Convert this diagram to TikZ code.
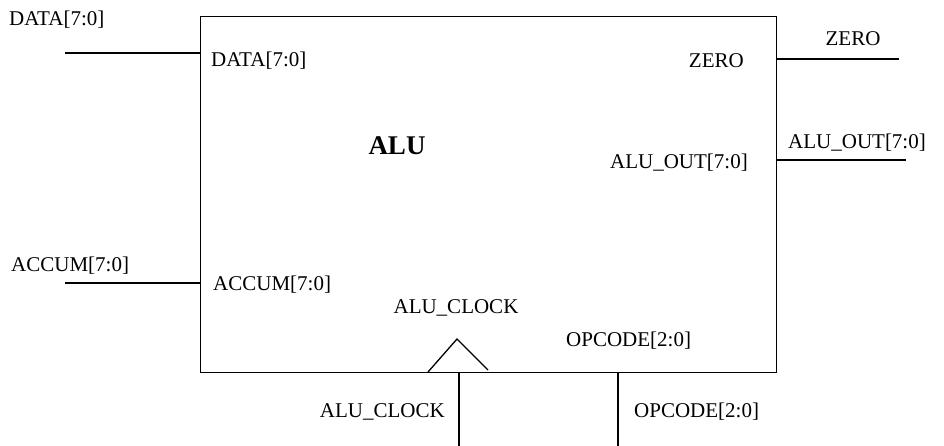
\documentclass[tikz,border=0pt]{standalone}
\usepackage{fontspec}
\setmainfont{Liberation Serif}
\begin{document}
\begin{tikzpicture}[x=1pt,y=-1pt,
  wire/.style={line width=1.3pt},
  lbl/.style={inner sep=0pt,font=\fontsize{21}{25}\selectfont}]
\useasboundingbox (0,0) rectangle (944,446);
\node[draw,line width=1.3pt,minimum width=576pt,minimum height=356pt,inner sep=0pt,anchor=north west] (alu) at (200,16) {};
\node[lbl,font=\fontsize{27}{30}\selectfont\bfseries] (title) at (397,146) {ALU};
% inputs
\coordinate (din) at (65,53);
\coordinate (dport) at (200,53);
\draw[wire] (din) -- (dport);
\node[lbl,anchor=west] (dext) at (9,20) {DATA[7:0]};
\node[lbl,anchor=west] (dint) at (211,61) {DATA[7:0]};
\coordinate (ain) at (65,283);
\coordinate (aport) at (200,283);
\draw[wire] (ain) -- (aport);
\node[lbl,anchor=west] (aext) at (11,266) {ACCUM[7:0]};
\node[lbl,anchor=west] (aint) at (213,285) {ACCUM[7:0]};
% outputs
\coordinate (zport) at (776,59);
\coordinate (zout) at (899,59);
\draw[wire] (zport) -- (zout);
\node[lbl] (zext) at (853,39) {ZERO};
\node[lbl,anchor=east] (zint) at (744,61) {ZERO};
\coordinate (oport) at (776,160);
\coordinate (oout) at (906,160);
\draw[wire] (oport) -- (oout);
\node[lbl] (oext) at (857,143) {ALU\_OUT[7:0]};
\node[lbl,anchor=east] (oint) at (748,163) {ALU\_OUT[7:0]};
% clock
\coordinate (ck1) at (428,372);
\coordinate (ckt) at (457,339);
\coordinate (ck2) at (488,370);
\draw[wire] (ck1) -- (ckt) -- (ck2);
\coordinate (ckport) at (459,372);
\coordinate (ckin) at (459,446);
\draw[wire] (ckport) -- (ckin);
\node[lbl] (ckint) at (456,308) {ALU\_CLOCK};
\node[lbl,anchor=east] (ckext) at (445,412) {ALU\_CLOCK};
% opcode
\coordinate (opport) at (618,372);
\coordinate (opin) at (618,446);
\draw[wire] (opport) -- (opin);
\node[lbl,anchor=west] (opint) at (566,341) {OPCODE[2:0]};
\node[lbl,anchor=west] (opext) at (634,412) {OPCODE[2:0]};
\end{tikzpicture}
\end{document}
